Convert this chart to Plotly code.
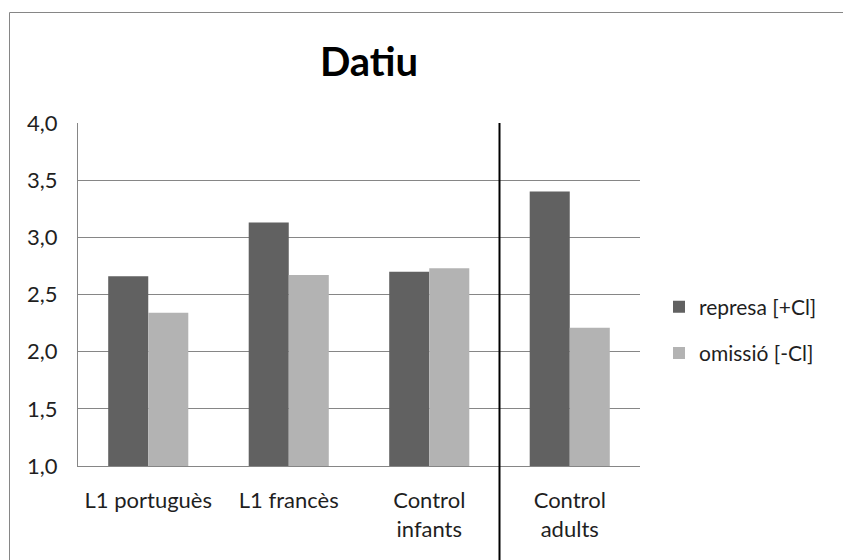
import plotly.graph_objects as go

categories = ["L1 portuguès", "L1 francès", "Control<br>infants", "Control<br>adults"]
represa = [2.66, 3.13, 2.70, 3.40]
omissio = [2.34, 2.67, 2.73, 2.21]
series_names = ["represa [+Cl]", "omissió [-Cl]"]
y_ticks = [1.0, 1.5, 2.0, 2.5, 3.0, 3.5, 4.0]

FONT = "Lato"
TXT = "#1f1f1f"
GRID = "#868686"

fig = go.Figure()
fig.add_trace(go.Bar(x=categories, y=represa, name=series_names[0],
                     marker=dict(color="#616161", line=dict(width=0)),
                     legendgroup="a"))
fig.add_trace(go.Bar(x=categories, y=omissio, name=series_names[1],
                     marker=dict(color="#b3b3b3", line=dict(width=0)),
                     legendgroup="b"))

W, H = 843, 560
L, R, T, B = 78, 203, 123, 94
ph = H - T - B
pw = W - L - R

fig.update_layout(
    width=W, height=H,
    margin=dict(l=L, r=R, t=T, b=B, pad=0),
    paper_bgcolor="white", plot_bgcolor="white",
    separators=",.",
    barmode="group", bargap=0.43, bargroupgap=0,
    font=dict(family=FONT, size=22, color=TXT),
    title=dict(text="<b>Datiu</b>", x=369 / W, xref="container", xanchor="center",
               y=1 - 62 / H, yref="container", yanchor="middle",
               font=dict(family=FONT, size=40, color="#000000")),
    showlegend=True,
    legend=dict(x=(659 - L) / pw, xanchor="left", y=(H - B - 330) / ph, yanchor="middle",
                font=dict(family=FONT, size=21, color=TXT),
                bgcolor="rgba(0,0,0,0)", tracegroupgap=16, traceorder="grouped",
                itemclick=False),
    xaxis=dict(type="category", showgrid=False, showline=True, linecolor=GRID, linewidth=1,
               ticks="", ticklabelstandoff=15, tickfont=dict(family=FONT, size=22, color=TXT)),
    yaxis=dict(range=[1, 4], tickvals=y_ticks, tickformat=".1f", showgrid=True,
               gridcolor=GRID, gridwidth=1, showline=True, linecolor=GRID, linewidth=1,
               ticks="", ticklabelstandoff=15, zeroline=False,
               tickfont=dict(family=FONT, size=22, color=TXT)),
    shapes=[
        dict(type="line", xref="x", yref="paper", x0=2.5, x1=2.5, y0=1, y1=-0.35,
             line=dict(color="black", width=2), layer="above"),
        dict(type="rect", xref="paper", yref="paper",
             x0=(9.5 - L) / pw, x1=1.6, y0=-0.6, y1=(H - B - 12.5) / ph,
             line=dict(color=GRID, width=1), fillcolor="rgba(0,0,0,0)", layer="below"),
    ],
)

fig.write_html("out.html", config={"displayModeBar": False},
               post_script="document.body.style.margin='0';document.body.style.padding='0';")
